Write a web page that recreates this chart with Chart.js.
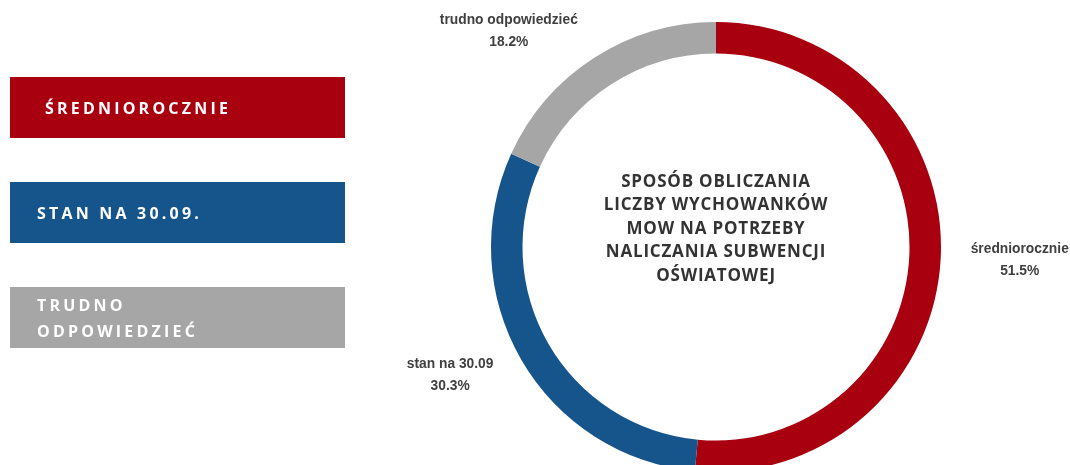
<!DOCTYPE html>
<html>
<head>
<meta charset="utf-8">
<script src="https://cdn.jsdelivr.net/npm/chart.js@4.4.1/dist/chart.umd.min.js"></script>
<style>
  html, body { margin: 0; padding: 0; background: #fff; overflow: hidden; width: 1070px; height: 465px; }
  #wrap { position: absolute; left: 0; top: 0; width: 1070px; height: 480px; }
  #legend { position: absolute; left: 10px; top: 77px; }
  .item {
    width: 335px; height: 61px; margin-bottom: 44px; box-sizing: border-box;
    display: flex; align-items: center; padding-left: 27px;
    color: #fff; font: bold 16px "Open Sans", sans-serif; letter-spacing: 3.2px; line-height: 26px;
  }
  .item:first-child { padding-left: 35px; }
</style>
</head>
<body>
<div id="wrap"><canvas id="chart"></canvas></div>
<div id="legend"></div>
<script>
const sliceLabels = ["średniorocznie", "stan na 30.09", "trudno odpowiedzieć"];
const legendLabels = ["ŚREDNIOROCZNIE", "STAN NA 30.09.", "TRUDNO<br>ODPOWIEDZIEĆ"];
const values = [51.5, 30.3, 18.2];
const centerTitle = ["SPOSÓB OBLICZANIA", "LICZBY WYCHOWANKÓW", "MOW NA POTRZEBY", "NALICZANIA SUBWENCJI", "OŚWIATOWEJ"];

const sliceColors = [
  "#a8000f",   // red
  "#16548c",   // blue
  "#a6a6a6",   // grey
];

// label placement around the ring: extra distance and angle tweak (deg)
const labelGap = [79, 70, 74];
const labelShift = [-0.3, 4.4, -11.1];

const sliceLabelPlugin = {
  id: "sliceLabels",
  afterDatasetsDraw(chart) {
    const ctx = chart.ctx;
    const meta = chart.getDatasetMeta(0);
    meta.data.forEach((arc, i) => {
      const mid = (arc.startAngle + arc.endAngle) / 2 + labelShift[i] * Math.PI / 180;
      const r = arc.outerRadius + labelGap[i];
      const x = arc.x + Math.cos(mid) * r;
      const y = arc.y + Math.sin(mid) * r;
      ctx.save();
      ctx.font = 'bold 13.8px "Liberation Sans", Arial, sans-serif';
      ctx.fillStyle = "#404040";
      ctx.textAlign = "center";
      ctx.textBaseline = "middle";
      ctx.fillText(sliceLabels[i], x, y - 11);
      ctx.fillText(values[i].toFixed(1) + "%", x, y + 11);
      ctx.restore();
    });
  }
};

const centerTextPlugin = {
  id: "centerText",
  afterDatasetsDraw(chart) {
    const ctx = chart.ctx;
    const arc = chart.getDatasetMeta(0).data[0];
    const n = centerTitle.length;
    ctx.save();
    ctx.font = 'bold 17px "Open Sans", sans-serif';
    ctx.letterSpacing = "0.8px";
    ctx.fillStyle = "#333333";
    ctx.textAlign = "center";
    ctx.textBaseline = "middle";
    centerTitle.forEach((line, i) => {
      ctx.fillText(line, arc.x, arc.y - 18 + (i - (n - 1) / 2) * 23.5);
    });
    ctx.restore();
  }
};

function createDoughnut(ctx) {
  return new Chart(ctx, {
    type: "doughnut",
    data: {
      labels: sliceLabels,
      datasets: [
        {
          data: values,
          backgroundColor: sliceColors,
          borderWidth: 0,
        },
      ],
    },
    options: {
      responsive: true,
      maintainAspectRatio: false,
      animation: false,
      cutout: "86%",
      layout: {
        padding: { left: 491, right: 129, top: 22, bottom: 8 },
      },
      plugins: {
        legend: { display: false },
        tooltip: { enabled: false },
      },
    },
    plugins: [sliceLabelPlugin, centerTextPlugin],
  });
}

const chart = createDoughnut(document.getElementById("chart"));

// html legend built from chart data
const legendEl = document.getElementById("legend");
chart.data.labels.forEach((lbl, i) => {
  const div = document.createElement("div");
  div.className = "item";
  div.style.background = sliceColors[i];
  div.innerHTML = "<span>" + legendLabels[i] + "</span>";
  legendEl.appendChild(div);
});
</script>
</body>
</html>
